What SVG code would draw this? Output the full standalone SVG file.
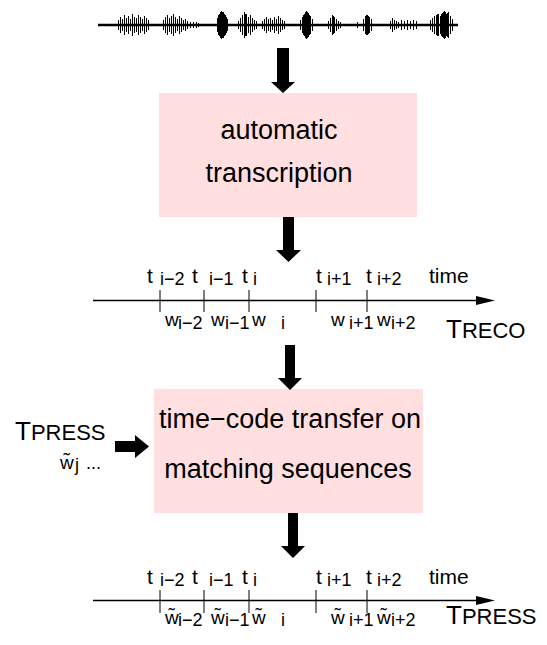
<svg xmlns="http://www.w3.org/2000/svg" width="547" height="645" viewBox="0 0 547 645">
<style>
.box{fill:#ffdfdf}
.bt{font-family:"Liberation Sans",Arial,sans-serif;font-size:27px;fill:#000;text-anchor:middle}
.lb{font-family:"Liberation Sans",Arial,sans-serif;fill:#000}
.t{font-size:21px}
.s{font-size:18px}
.w{font-size:19px}
.big{font-size:26px}
.sc{font-size:22px}
.arr{fill:#000}
.ax{stroke:#000;stroke-width:1.3;fill:none}
.tk{stroke:#000;stroke-width:1;fill:none}
</style>
<rect width="547" height="645" fill="#fff"/>
<g id="waveform">
<line x1="98" y1="25" x2="458" y2="25" stroke="#000" stroke-width="2.5"/>
<path stroke="#000" stroke-width="1" fill="none" shape-rendering="crispEdges" d="M118 20v10M120 17v16M122 19v12M124 15v20M126 18v14M128 16v18M130 19v12M132 14v22M134 17v16M136 18v14M138 15v20M140 17v16M142 19v12M144 16v18M146 18v14M148 20v10M163 20v10M165 17v16M167 15v20M169 18v14M171 16v18M173 14v22M175 17v16M177 19v12M179 16v18M181 18v14M183 20v10M185 19v12M187 21v8M190 22v6M193 22v6M196 22v6M198 23v4M217 18v14M218 15v20M219 14v22M220 12v26M221 11v28M222 12v26M223 12v26M224 14v22M225 15v20M226 17v16M227 19v12M238 21v8M240 18v14M242 15v20M244 12v26M245 14v22M246 14v22M248 17v16M250 15v20M252 18v14M254 20v10M256 21v8M262 21v8M264 19v12M266 17v16M268 19v12M270 18v14M272 20v10M274 17v16M276 19v12M278 16v18M280 18v14M282 20v10M284 21v8M300 20v10M302 17v16M303 15v20M304 14v22M305 12v26M306 11v28M307 12v26M308 13v24M309 15v20M310 16v18M312 19v12M328 21v8M330 18v14M332 15v20M333 16v18M334 17v16M336 19v12M338 21v8M340 22v6M357 22v6M363 19v12M365 16v18M366 15v20M367 15v20M368 16v18M369 17v16M371 19v12M390 21v8M392 18v14M394 20v10M396 21v8M398 22v6M401 20v10M404 21v8M407 20v10M410 21v8M413 20v10M416 21v8M430 20v10M432 18v14M434 16v18M436 15v20M437 14v22M438 14v22M440 16v18M441 14v22M442 13v24M443 12v26M444 11v28M445 12v26M446 14v22M447 13v24M448 12v26M450 16v18M452 19v12"/>
</g>
<g id="transcription">
<rect class="box" x="159" y="93" width="258" height="124"/>
<text class="bt" x="279" y="139">automatic</text>
<text class="bt" x="279" y="182">transcription</text>
</g>
<g id="timeline-reco">
<line class="ax" x1="93" y1="300.5" x2="478" y2="300.5"/>
<polygon class="arr" points="476,296 495,300.5 476,305"/>
<path class="tk" d="M160 290v22M204 290v22M249 290v22M316 290v22M367 290v22"/>
<text class="lb" y="283"><tspan class="t" x="147">t</tspan><tspan class="s" x="160" dy="2">i−2</tspan></text>
<text class="lb" y="283"><tspan class="t" x="192">t</tspan><tspan class="s" x="209" dy="2">i−1</tspan></text>
<text class="lb" y="283"><tspan class="t" x="242">t</tspan><tspan class="s" x="253" dy="2">i</tspan></text>
<text class="lb" y="283"><tspan class="t" x="316">t</tspan><tspan class="s" x="327" dy="2">i+1</tspan></text>
<text class="lb" y="283"><tspan class="t" x="366">t</tspan><tspan class="s" x="377" dy="2">i+2</tspan></text>
<text class="lb t" x="429" y="283">time</text>
<text class="lb" y="326"><tspan class="w" x="165">w</tspan><tspan class="s" x="178" dy="3">i−2</tspan></text>
<text class="lb" y="326"><tspan class="w" x="211">w</tspan><tspan class="s" x="225" dy="3">i−1</tspan></text>
<text class="lb" y="326"><tspan class="w" x="252">w</tspan><tspan class="s" x="281" dy="3">i</tspan></text>
<text class="lb" y="326"><tspan class="w" x="331">w</tspan><tspan class="s" x="349" dy="3">i+1</tspan></text>
<text class="lb" y="326"><tspan class="w" x="377">w</tspan><tspan class="s" x="391" dy="3">i+2</tspan></text>
<text class="lb" x="446" y="338"><tspan class="big">T</tspan><tspan class="sc">RECO</tspan></text>
</g>
<g id="tpress-input">
<text class="lb" x="15" y="440"><tspan class="big">T</tspan><tspan class="sc">PRESS</tspan></text>
<text class="lb" y="469"><tspan class="w" x="60">w̃</tspan><tspan class="s" x="75" dy="2">j</tspan><tspan class="s" x="86" dy="-2">...</tspan></text>
</g>
<g id="transfer">
<rect class="box" x="154" y="389" width="269" height="124"/>
<text class="bt" x="290" y="428">time−code transfer on</text>
<text class="bt" x="288" y="478">matching sequences</text>
</g>
<g id="timeline-press">
<line class="ax" x1="93" y1="600.5" x2="478" y2="600.5"/>
<polygon class="arr" points="476,596 495,600.5 476,605"/>
<path class="tk" d="M160 590v23M204 590v23M249 590v23M316 590v23M367 590v23"/>
<text class="lb" y="584"><tspan class="t" x="147">t</tspan><tspan class="s" x="160" dy="2">i−2</tspan></text>
<text class="lb" y="584"><tspan class="t" x="192">t</tspan><tspan class="s" x="209" dy="2">i−1</tspan></text>
<text class="lb" y="584"><tspan class="t" x="242">t</tspan><tspan class="s" x="253" dy="2">i</tspan></text>
<text class="lb" y="584"><tspan class="t" x="316">t</tspan><tspan class="s" x="327" dy="2">i+1</tspan></text>
<text class="lb" y="584"><tspan class="t" x="366">t</tspan><tspan class="s" x="377" dy="2">i+2</tspan></text>
<text class="lb t" x="429" y="584">time</text>
<text class="lb" y="624"><tspan class="w" x="165">w̃</tspan><tspan class="s" x="178" dy="2">i−2</tspan></text>
<text class="lb" y="624"><tspan class="w" x="211">w̃</tspan><tspan class="s" x="225" dy="2">i−1</tspan></text>
<text class="lb" y="624"><tspan class="w" x="252">w̃</tspan><tspan class="s" x="281" dy="2">i</tspan></text>
<text class="lb" y="624"><tspan class="w" x="331">w̃</tspan><tspan class="s" x="349" dy="2">i+1</tspan></text>
<text class="lb" y="624"><tspan class="w" x="377">w̃</tspan><tspan class="s" x="391" dy="2">i+2</tspan></text>
<text class="lb" x="446" y="624"><tspan class="big">T</tspan><tspan class="sc">PRESS</tspan></text>
</g>
<g id="connectors">
<polygon class="arr" points="277,48 289,48 289,82 295,82 283,93 271,82 277,82"/>
<polygon class="arr" points="283,217 294,217 294,250 301,250 288.5,262 276,250 283,250"/>
<polygon class="arr" points="285,345 295,345 295,378 302,378 290,390 278,378 285,378"/>
<polygon class="arr" points="288,513 298,513 298,546 305,546 293,558 281,546 288,546"/>
<polygon class="arr" points="115,441 135,441 135,435 149,446.5 135,458 135,452 115,452"/>
</g>
</svg>
